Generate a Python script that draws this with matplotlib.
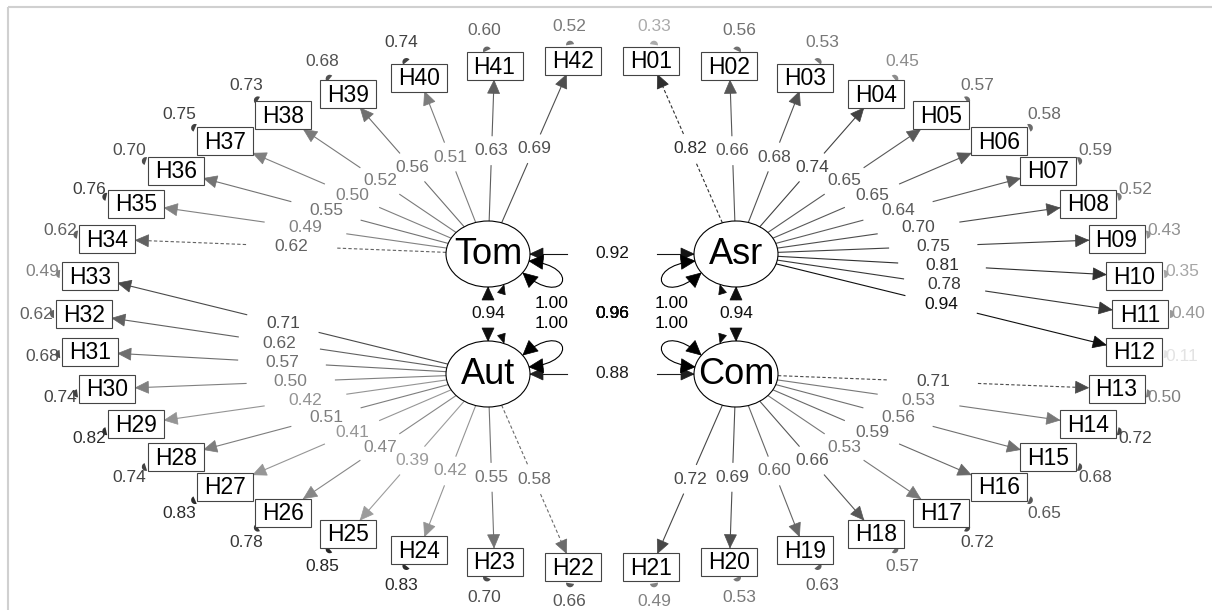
import numpy as np
import matplotlib
matplotlib.use('Agg')
import matplotlib.pyplot as plt
from matplotlib.patches import Ellipse, Rectangle, Polygon, PathPatch, Wedge
from matplotlib.path import Path

plt.rcParams['font.family'] = ['Liberation Sans', 'DejaVu Sans']

# --- data ---
latents = ['Tom', 'Asr', 'Aut', 'Com']

items_asr = ['H01', 'H02', 'H03', 'H04', 'H05', 'H06', 'H07', 'H08', 'H09', 'H10', 'H11', 'H12']
load_asr = [0.82, 0.66, 0.68, 0.74, 0.65, 0.65, 0.64, 0.70, 0.75, 0.81, 0.78, 0.94]
items_com = ['H13', 'H14', 'H15', 'H16', 'H17', 'H18', 'H19', 'H20', 'H21']
load_com = [0.71, 0.53, 0.56, 0.59, 0.53, 0.66, 0.60, 0.69, 0.72]
items_aut = ['H22', 'H23', 'H24', 'H25', 'H26', 'H27', 'H28', 'H29', 'H30', 'H31', 'H32', 'H33']
load_aut = [0.58, 0.55, 0.42, 0.39, 0.47, 0.41, 0.51, 0.42, 0.50, 0.57, 0.62, 0.71]
items_tom = ['H34', 'H35', 'H36', 'H37', 'H38', 'H39', 'H40', 'H41', 'H42']
load_tom = [0.62, 0.49, 0.55, 0.50, 0.52, 0.56, 0.51, 0.63, 0.69]

# residual variances H01..H42
residuals = [0.33, 0.56, 0.53, 0.45, 0.57, 0.58, 0.59, 0.52, 0.43, 0.35, 0.40, 0.11,
             0.50, 0.72, 0.68, 0.65, 0.72, 0.57, 0.63, 0.53, 0.49,
             0.66, 0.70, 0.83, 0.85, 0.78, 0.83, 0.74, 0.82, 0.74, 0.68, 0.62, 0.49,
             0.62, 0.76, 0.70, 0.75, 0.73, 0.68, 0.74, 0.60, 0.52]

# latent covariances and variances
cov_from = ['Tom', 'Aut', 'Tom', 'Asr', 'Tom', 'Asr']
cov_to = ['Asr', 'Com', 'Aut', 'Com', 'Com', 'Aut']
cov_val = [0.92, 0.88, 0.94, 0.94, 0.96, 0.96]
lat_var = [1.00, 1.00, 1.00, 1.00]

# --- layout (pixel space) ---
W, H = 1212, 610
cx, cy = 612, 314
ra, rb = 528, 254
bw, bh = 56, 28
erx, ery = 42, 33
gx, gy = 45, 15

fig = plt.figure(figsize=(W / 100, H / 100), dpi=100)
ax = fig.add_axes([0, 0, 1, 1])
ax.set_xlim(0, W)
ax.set_ylim(H, 0)
ax.axis('off')

all_items = sorted(items_asr + items_com + items_aut + items_tom)
n = len(all_items)
pos = {}
for k, it in enumerate(all_items):
    ang = (k + 0.5) * 2 * np.pi / n
    pos[it] = np.array([cx + ra * np.sin(ang), cy - rb * np.cos(ang)])

lpos = {'Tom': np.array([cx - 124, cy - 60]), 'Asr': np.array([cx + 124, cy - 60]),
        'Aut': np.array([cx - 124, cy + 60]), 'Com': np.array([cx + 124, cy + 60])}


def grey(w):
    g = min(max(1 - abs(w), 0), 1)
    return (g, g, g)


def ell_r(u):
    return 1 / np.sqrt((u[0] / erx) ** 2 + (u[1] / ery) ** 2)


def box_r(u):
    return min((bw / 2) / max(abs(u[0]), 1e-9), (bh / 2) / max(abs(u[1]), 1e-9))


def head(tip, d, col, L=13, hw=6):
    d = d / np.linalg.norm(d)
    nrm = np.array([-d[1], d[0]])
    base = tip - d * L
    ax.add_patch(Polygon([tip, base + nrm * hw, base - nrm * hw], closed=True,
                         fc=col, ec=col, lw=0.5, zorder=2))


def edge(p0, p1, val, col, dashed=False, both=False):
    u = (p1 - p0) / np.linalg.norm(p1 - p0)
    mid = (p0 + p1) / 2
    d = 1 / np.sqrt((u[0] / gx) ** 2 + (u[1] / gy) ** 2)
    ls = (0, (3, 2)) if dashed else '-'
    for a, b in [(p0, mid - u * d), (mid + u * d, p1)]:
        ax.plot([a[0], b[0]], [a[1], b[1]], color=col, lw=0.8, ls=ls, zorder=1)
    head(p1, u, col)
    if both:
        head(p0, -u, col)
    ax.text(mid[0], mid[1], '%.2f' % val, fontsize=12.5, color=col,
            ha='center', va='center', zorder=3)


# loadings
groups = [('Tom', items_tom, load_tom), ('Asr', items_asr, load_asr),
          ('Aut', items_aut, load_aut), ('Com', items_com, load_com)]
for lat, its, lds in groups:
    lp = lpos[lat]
    for j, (it, w) in enumerate(zip(its, lds)):
        bp = pos[it]
        u = (bp - lp) / np.linalg.norm(bp - lp)
        edge(lp + u * ell_r(u), bp - u * box_r(u), w, grey(w), dashed=(j == 0))

# covariances between latents (straight ones)
for a, b, w in zip(cov_from[:4], cov_to[:4], cov_val[:4]):
    pa, pb = lpos[a], lpos[b]
    u = (pb - pa) / np.linalg.norm(pb - pa)
    edge(pa + u * ell_r(u), pb - u * ell_r(u), w, grey(w), both=True)

# diagonal covariances: only their small arrowheads and the stacked labels show
for a, b, w in zip(cov_from[4:], cov_to[4:], cov_val[4:]):
    for lat in (a, b):
        lp = lpos[lat]
        sx = np.sign(cx - lp[0])
        sy = np.sign(cy - lp[1])
        tip = lp + np.array([sx * 16, sy * 31])
        head(tip, np.array([sx * 0.3, -sy * 1.0]), grey(w), L=9, hw=4)
    for off in (0, 0.6):
        ax.text(cx + off, cy, '%.2f' % w, fontsize=12.5, color=grey(w),
                ha='center', va='center', zorder=3)

# latent variance loops
for lat, v in zip(latents, lat_var):
    lx, ly = lpos[lat]
    sx = np.sign(cx - lx)
    sy = np.sign(cy - ly)
    S = np.array([lx + sx * 41, ly + sy * 7])
    C1 = np.array([lx + sx * 96, ly + sy * 12])
    C2 = np.array([lx + sx * 76, ly + sy * 55])
    E = np.array([lx + sx * 35, ly + sy * 19])
    path = Path([S, C1, C2, E], [Path.MOVETO, Path.CURVE4, Path.CURVE4, Path.CURVE4])
    ax.add_patch(PathPatch(path, fc='none', ec=grey(v), lw=0.8, zorder=1))
    head(S, S - C1, grey(v), L=14, hw=7)
    head(E, E - C2, grey(v), L=14, hw=7)
    ax.text(lx + sx * 64, ly + sy * 50, '%.2f' % v, fontsize=12.5, color=grey(v),
            ha='center', va='center', zorder=3)

# latent ellipses
for lat in latents:
    lx, ly = lpos[lat]
    ax.add_patch(Ellipse((lx, ly), 2 * erx, 2 * ery, fc='white', ec='black', lw=0.8, zorder=4))
    ax.text(lx, ly + 1, lat, fontsize=26, ha='center', va='center', zorder=5)

# indicator boxes with residuals
for it, r in zip(all_items, residuals):
    x, y = pos[it]
    ax.add_patch(Rectangle((x - bw / 2, y - bh / 2), bw, bh, fc='white', ec='#444444',
                           lw=0.8, zorder=4))
    ax.text(x, y + 1, it, fontsize=16.5, ha='center', va='center', zorder=5)
    u = np.array([x - cx, y - cy])
    u = u / np.linalg.norm(u)
    be = box_r(u)
    le = min(17 / max(abs(u[0]), 1e-9), 7 / max(abs(u[1]), 1e-9))
    dist = be + le + 3 + 9 * abs(u[1])
    tw = 2 * abs(u[0] * u[1])
    lx_ = x + u[0] * dist - 6 * np.sign(u[0]) * tw
    ly_ = y + u[1] * dist + 6 * np.sign(u[1]) * tw
    ax.text(lx_, ly_, '%.2f' % r, fontsize=12.5, color=grey(r),
            ha='center', va='center', zorder=3)
    mp = np.array([x, y]) + u * (be + 2)
    ang = np.degrees(np.arctan2(u[1], u[0]))
    ax.add_patch(Wedge(mp, 4, ang - 90, ang + 90, fc=grey(r), ec='none', zorder=3))

# outer frame
ax.add_patch(Rectangle((8, 7), 1300, 700, fill=False, ec='#d0d0d0', lw=1.5, zorder=0))

fig.savefig('out.png', dpi=100)
